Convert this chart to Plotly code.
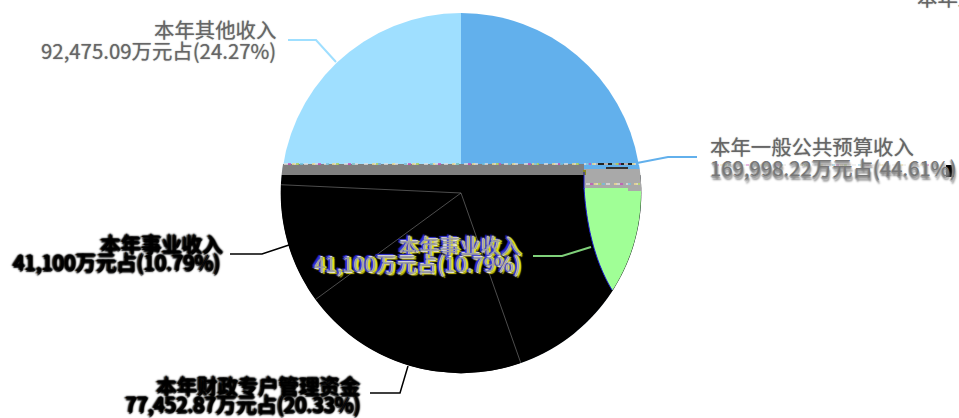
import numpy as np
import plotly.graph_objects as go

# ---- data ----
categories = ["本年一般公共预算收入", "本年财政专户管理资金", "本年事业收入", "本年其他收入"]
values = [169998.22, 77452.87, 41100, 92475.09]
amount_labels = ["169,998.22万元占(44.61%)", "77,452.87万元占(20.33%)", "41,100万元占(10.79%)", "92,475.09万元占(24.27%)"]
slice_colors = ["#62B0EC", "#000000", "#000000", "#9FDFFF"]

W, H = 959, 418
CX, CY, R = 461, 193, 180
FONT = "Noto Sans CJK SC"
FS = 20.4

def px(x): return x / W
def py(y): return 1 - y / H

def path(points, close=True):
    s = "M" + " L".join(f"{px(x):.5f},{py(y):.5f}" for x, y in points)
    return s + (" Z" if close else "")

def segment(y_top, y_bot, x_min=None, x_max=None, r=R + 0.3):
    """polygon of the disc part lying between two horizontal rows"""
    ys = np.linspace(y_top, y_bot, 80)
    half = np.sqrt(np.maximum(r ** 2 - (ys - CY) ** 2, 0))
    left = CX - half
    right = CX + half
    if x_min is not None:
        left = np.maximum(left, x_min)
    if x_max is not None:
        right = np.minimum(right, x_max)
    return list(zip(right, ys)) + list(zip(left[::-1], ys[::-1]))

shapes = []
def fill(points, color):
    shapes.append(dict(type="path", xref="paper", yref="paper", path=path(points),
                       fillcolor=color, line=dict(width=0), layer="above"))
def stroke(points, color, width=1.5, dash=None, opacity=1):
    shapes.append(dict(type="path", xref="paper", yref="paper", path=path(points, False),
                       line=dict(color=color, width=width, dash=dash or "solid"),
                       opacity=opacity, layer="above"))

# lower part of the disc
fill(segment(175, CY + R + 0.6), "#000000")

# green crescent at the right
t = np.linspace(0, 1, 40)
inner_x = 584 * (1 - t) ** 2 + 2 * 588 * t * (1 - t) + 612 * t ** 2
inner_y = 188 * (1 - t) ** 2 + 2 * 250 * t * (1 - t) + 290 * t ** 2
outer_y = np.linspace(290, 188, 40)
outer_x = CX + np.sqrt(R ** 2 - (outer_y - CY) ** 2)
fill(list(zip(inner_x, inner_y)) + list(zip(outer_x, outer_y)), "#A0FF96")
stroke(list(zip(inner_x, inner_y)), "#1A1AD0", 1.0)

# horizontal bands
fill(segment(164, 175, x_max=584), "#808080")
fill(segment(169, 188, x_min=584), "#A9A9A9")
fill(segment(188, 191, x_min=628), "#A9A9A9")
fill(segment(165, 169, x_min=584), "#62B0EC")
fill([(606, 167), (628, 167), (628, 169), (606, 169)], "#333333")
fill([(583, 170), (586, 170), (586, 175), (583, 175)], "#8A8A20")
stroke([(584, 172), (584, 189)], "#1A1AD0", 1.0)
fill([(596, 163), (632, 163), (632, 165), (596, 165)], "#222222")

# row of tiny coloured slices
dots = [("#E0E0E0", "4px,6px", 0), ("#C850B8", "3px,27px", 4), ("#A8D050", "3px,37px", 12),
        ("#F0DC90", "3px,17px", 8), ("#70C0DC", "3px,23px", 16)]
for color, dash, off in dots:
    stroke([(284 + off, 164), (636, 164)], color, 1.6, dash)
    stroke([(586 + off, 184), (640, 184)], color, 1.6, dash)

# slice boundaries, from the values
a = np.cumsum(values) / np.sum(values) * 2 * np.pi
for i in (0, 1, 2):
    ex = CX + R * np.sin(a[i])
    ey = CY - R * np.cos(a[i])
    stroke([(CX, CY), (ex, ey)], "#8A8A8A", 0.8, opacity=0.7)

# leader lines
stroke([(288, 40), (316, 40), (336, 62)], "#9FDFFF", 2)
stroke([(637, 163), (668, 157), (697, 157)], "#62B0EC", 2)
stroke([(230, 254), (262, 254), (289, 245)], "#000000", 1.5)
stroke([(370, 393), (400, 393), (408, 366)], "#000000", 1.5)
stroke([(533, 256), (562, 256), (591, 247)], "#7FD07A", 2)

annots = []
def label(x, y, text, anchor, color="#666666", shadow="0 0 1.2px #888888", weight="normal"):
    annots.append(dict(xref="paper", yref="paper", x=px(x), y=py(y), text=text, showarrow=False,
                       xanchor=anchor, yanchor="middle", align=anchor,
                       font=dict(family=FONT, size=FS, color=color, shadow=shadow, weight=weight)))

BLACK_FAT = "1.5px 0 1.5px #000, -1.5px 0 1.5px #000, 0 1.5px 1.5px #000, 0 -1.5px 1.5px #000, 1px 1px 1px #000"
HALO = ("-2px 0 1px #2222DD, 2px 0 1px #E8E000, 1px 0 1px #FFFFFF, -1px 0 1px #FFFFFF, "
        "0 1px 1px #FFFFFF, 0 -1px 1px #FFFFFF, 2px 2px 1px #C8C000, -2px -2px 1px #2222DD")
GREY_FAT = "0 2px 1.5px #888888, 1px 4px 2px #888888, -1px 1px 1px #AAAAAA"

label(278, 29, categories[3], "right")
label(278, 50, amount_labels[3], "right")
label(708, 146, categories[0], "left")
label(708, 167, amount_labels[0], "left", color="#777777", shadow=GREY_FAT)
label(224, 243, categories[2], "right", "#000000", BLACK_FAT)
label(222, 261, amount_labels[2], "right", "#000000", BLACK_FAT)
label(362, 385, categories[1], "right", "#000000", BLACK_FAT)
label(362, 403, amount_labels[1], "right", "#000000", BLACK_FAT)
label(523, 245, categories[2], "right", "#A0A0A0", HALO)
label(523, 263, amount_labels[2], "right", "#A0A0A0", HALO)
label(915, -3, "本年上级补助收入", "left")

# dashed colours over the grey amount text
for color, dash, off in dots:
    stroke([(712 + off, 165), (946, 165)], color, 1.2, dash, 0.8)
fill([(946, 165), (954, 165), (954, 177), (946, 177)], "#000000")

fig = go.Figure(go.Pie(
    labels=categories, values=values, sort=False, direction="clockwise", rotation=0,
    marker=dict(colors=slice_colors, line=dict(width=0)),
    textinfo="none", hoverinfo="label+value+percent", showlegend=False,
    domain=dict(x=[(CX - R) / W, (CX + R) / W], y=[(H - CY - R) / H, (H - CY + R) / H]),
))
fig.update_layout(width=W, height=H, margin=dict(l=0, r=0, t=0, b=0), autosize=False,
                  paper_bgcolor="#FFFFFF", plot_bgcolor="#FFFFFF",
                  shapes=shapes, annotations=annots, showlegend=False)
fig.write_html("out.html", config=dict(displayModeBar=False),
               post_script="document.body.style.margin='0';document.documentElement.style.overflow='hidden';")
